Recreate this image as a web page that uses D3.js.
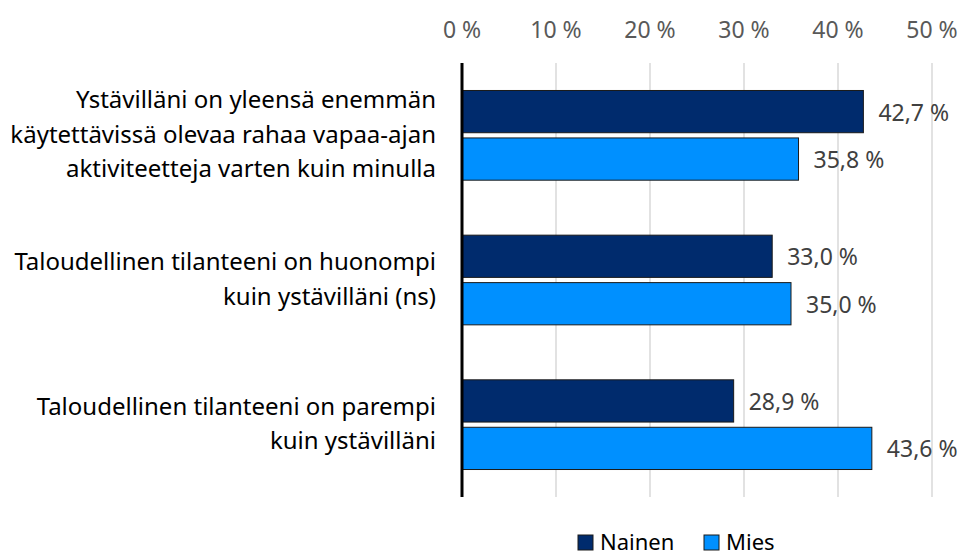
<!DOCTYPE html>
<html>
<head>
<meta charset="utf-8">
<script src="https://cdn.jsdelivr.net/npm/d3@7"></script>
<style>
  body { margin: 0; background: #fff; }
  text { font-family: "Noto Sans", sans-serif; }
</style>
</head>
<body>
<svg id="chart" width="965" height="557"></svg>
<script>
// Categories (each one split in lines) and the two series
const categories = [
  ['Ystävilläni on yleensä enemmän', 'käytettävissä olevaa rahaa vapaa-ajan', 'aktiviteetteja varten kuin minulla'],
  ['Taloudellinen tilanteeni on huonompi', 'kuin ystävilläni (ns)'],
  ['Taloudellinen tilanteeni on parempi', 'kuin ystävilläni']
]
const seriesNames = ['Nainen', 'Mies']
const nainen = [42.7, 33.0, 28.9]
const mies = [35.8, 35.0, 43.6]
const ticks = [0, 10, 20, 30, 40, 50]
const colors = ['#002b6d', '#0090ff']

const svg = d3.select('#chart')
const margin = { left: 462, top: 63, right: 33, bottom: 60 }
const width = 965 - margin.left - margin.right
const height = 557 - margin.top - margin.bottom

const g = svg.append('g').attr('transform', `translate(${margin.left},${margin.top})`)

const xScale = d3.scaleLinear().domain([0, 50]).range([0, width])
const yScale = d3.scaleBand().domain(d3.range(categories.length)).range([0, height])
const inner = d3.scaleBand().domain(seriesNames).range([yScale.bandwidth() * 0.19, yScale.bandwidth() * 0.81]).paddingInner(0.11)

const fmt = (v) => d3.format('.1f')(v).replace('.', ',') + ' %'

// gridlines
g.append('g').selectAll('line')
  .data(ticks.filter(t => t > 0))
  .enter().append('line')
  .attr('x1', d => xScale(d)).attr('x2', d => xScale(d))
  .attr('y1', 0).attr('y2', height)
  .attr('stroke', '#d9d9d9').attr('stroke-width', 1.5)

// top tick labels
g.append('g').selectAll('text')
  .data(ticks)
  .enter().append('text')
  .attr('x', d => xScale(d))
  .attr('y', -25)
  .attr('text-anchor', 'middle')
  .attr('fill', '#595959')
  .attr('font-size', 23)
  .text(d => d + ' %')

// bars
const rows = categories.map((c, i) => [
  { s: 'Nainen', v: nainen[i], i: i },
  { s: 'Mies', v: mies[i], i: i }
])

const groups = g.append('g').selectAll('g')
  .data(rows)
  .enter().append('g')
  .attr('transform', (d, i) => `translate(0,${yScale(i)})`)

groups.selectAll('rect')
  .data(d => d)
  .enter().append('rect')
  .attr('x', 0)
  .attr('y', d => inner(d.s))
  .attr('width', d => xScale(d.v))
  .attr('height', inner.bandwidth())
  .attr('fill', d => colors[seriesNames.indexOf(d.s)])
  .attr('stroke', '#1a1a1a')
  .attr('stroke-width', 1)

groups.selectAll('text.val')
  .data(d => d)
  .enter().append('text')
  .attr('class', 'val')
  .attr('x', d => xScale(d.v) + 15)
  .attr('y', d => inner(d.s) + inner.bandwidth() / 2 + 1)
  .attr('dy', '0.35em')
  .attr('fill', '#404040')
  .attr('font-size', 23)
  .text(d => fmt(d.v))

// category labels
const lineH = 34.5
g.append('g').selectAll('text')
  .data(categories)
  .enter().append('text')
  .attr('text-anchor', 'end')
  .attr('font-size', 24)
  .attr('fill', '#000')
  .each(function (lines, i) {
    const cy = yScale(i) + yScale.bandwidth() / 2 - 1
    d3.select(this).selectAll('tspan')
      .data(lines)
      .enter().append('tspan')
      .attr('x', -26)
      .attr('y', (l, j) => cy + (j - (lines.length - 1) / 2) * lineH)
      .attr('dy', '0.35em')
      .text(l => l)
  })

// axis line
g.append('line')
  .attr('x1', 0).attr('x2', 0)
  .attr('y1', 0).attr('y2', height)
  .attr('stroke', '#000').attr('stroke-width', 3)

// legend
const legend = svg.append('g').attr('transform', 'translate(578,533)')
const legendX = [0, 126]
seriesNames.forEach((name, i) => {
  legend.append('rect')
    .attr('x', legendX[i]).attr('y', 2)
    .attr('width', 15).attr('height', 15)
    .attr('fill', colors[i]).attr('stroke', '#1a1a1a')
  legend.append('text')
    .attr('x', legendX[i] + 22).attr('y', 9)
    .attr('dy', '0.36em')
    .attr('font-size', 22)
    .attr('fill', '#000')
    .text(name)
})
</script>
</body>
</html>
